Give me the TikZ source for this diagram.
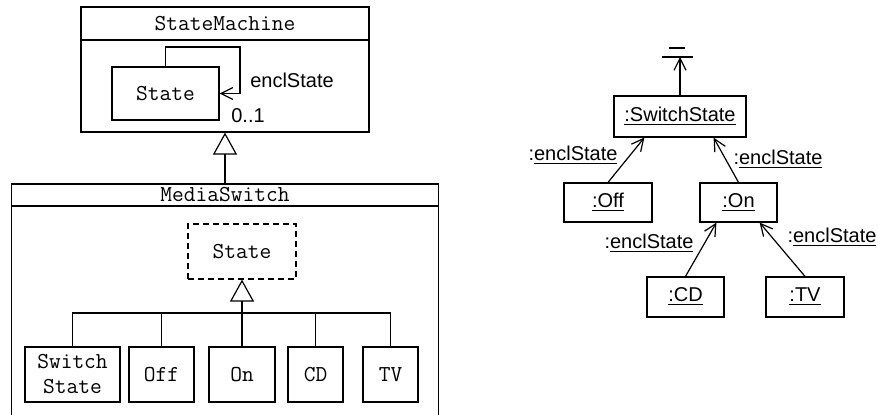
\documentclass[tikz,border=0pt]{standalone}
\usepackage{fontspec}
\setsansfont{Liberation Sans}
\usetikzlibrary{arrows.meta, positioning, calc}

\begin{document}
\begin{tikzpicture}[
    x=0.5pt, y=-0.5pt,
    line width=0.6pt,
    box/.style={rectangle, draw, align=center, inner sep=0pt, font=\fontsize{11.4}{12.5}\selectfont\ttfamily},
    obj/.style={rectangle, draw, align=center, inner sep=0pt, font=\sffamily\fontsize{10}{12}\selectfont},
    lbl/.style={inner sep=0pt, font=\sffamily\fontsize{10}{12}\selectfont},
    gen/.style={-{Triangle[open, length=11pt, width=12pt]}},
    nav/.style={-{Straight Barb[length=6pt, width=6pt]}}
]
\clip (0,0) rectangle (878,415);

% class diagram
\node[box, minimum width=144pt, minimum height=62.5pt] (sm) at (225,69.5) {};
\node[box, anchor=north, minimum width=144pt, minimum height=16.5pt] (smhead) at (sm.north) {StateMachine};
\node[box, minimum width=53.5pt, minimum height=26.5pt] (st) at (165.5,93.5) {State};
\coordinate (loop) at (240,47);
\draw[nav] (st.north) |- (loop) |- (st.east);
\node[lbl] (encl) at (292,80) {enclState};
\node[lbl] (mult) at (248,116) {0..1};

\node[box, minimum width=213.5pt, minimum height=128pt] (ms) at (225,312) {};
\node[box, anchor=north, minimum width=213.5pt, minimum height=11pt] (mshead) at (ms.north) {MediaSwitch};
\draw[gen] (mshead.north) -- (sm.south);

\node[box, dash pattern=on 3pt off 2pt, minimum width=54pt, minimum height=27.5pt] (abs) at (242,251.5) {State};
\node[box, minimum width=47.5pt, minimum height=27.5pt] (sw) at (72.5,374.5) {Switch\\State};
\node[box, minimum width=32.5pt, minimum height=27.5pt] (off) at (161.5,374.5) {Off};
\node[box, minimum width=33pt, minimum height=27.5pt] (on) at (242,374.5) {On};
\node[box, minimum width=27.5pt, minimum height=27.5pt] (cd) at (315.5,374.5) {CD};
\node[box, minimum width=27.5pt, minimum height=27.5pt] (tv) at (390.5,374.5) {TV};
\coordinate (bar) at (242,313);
\draw[gen] (bar) -- (abs.south);
\foreach \n in {sw,off,on,cd,tv}
    \draw (\n.north) |- (bar);

% object diagram
\node[obj, minimum width=66pt, minimum height=20.5pt] (ss) at (680,116.5) {\underline{:SwitchState}};
\coordinate (top) at (680,57);
\draw[nav] (ss.north) -- (top);
\draw ([xshift=-9pt]top) -- ([xshift=6.5pt]top);
\draw ([xshift=-5.5pt,yshift=4.5pt]top) -- ([xshift=2.5pt,yshift=4.5pt]top);

\node[obj, minimum width=44pt, minimum height=19.5pt] (off2) at (608,202.5) {\underline{:Off}};
\node[obj, minimum width=38.5pt, minimum height=19.5pt] (on2) at (738.5,202.5) {\underline{:On}};
\node[obj, minimum width=38.5pt, minimum height=20pt] (cd2) at (685.5,297) {\underline{:CD}};
\node[obj, minimum width=39pt, minimum height=20pt] (tv2) at (805,297) {\underline{:TV}};

\draw[nav] (off2.north) -- ([xshift=15.5pt]ss.south west);
\draw[nav] (on2.north) -- ([xshift=-16.5pt]ss.south east);
\draw[nav] (cd2.north) -- ([xshift=8.5pt]on2.south west);
\draw[nav] (tv2.north) -- ([xshift=-9pt]on2.south east);

\node[lbl] (l1) at (573,155) {:\underline{enclState}};
\node[lbl] (l2) at (778,159) {:\underline{enclState}};
\node[lbl] (l3) at (649,243) {:\underline{enclState}};
\node[lbl] (l4) at (832,237) {:\underline{enclState}};
\end{tikzpicture}
\end{document}
